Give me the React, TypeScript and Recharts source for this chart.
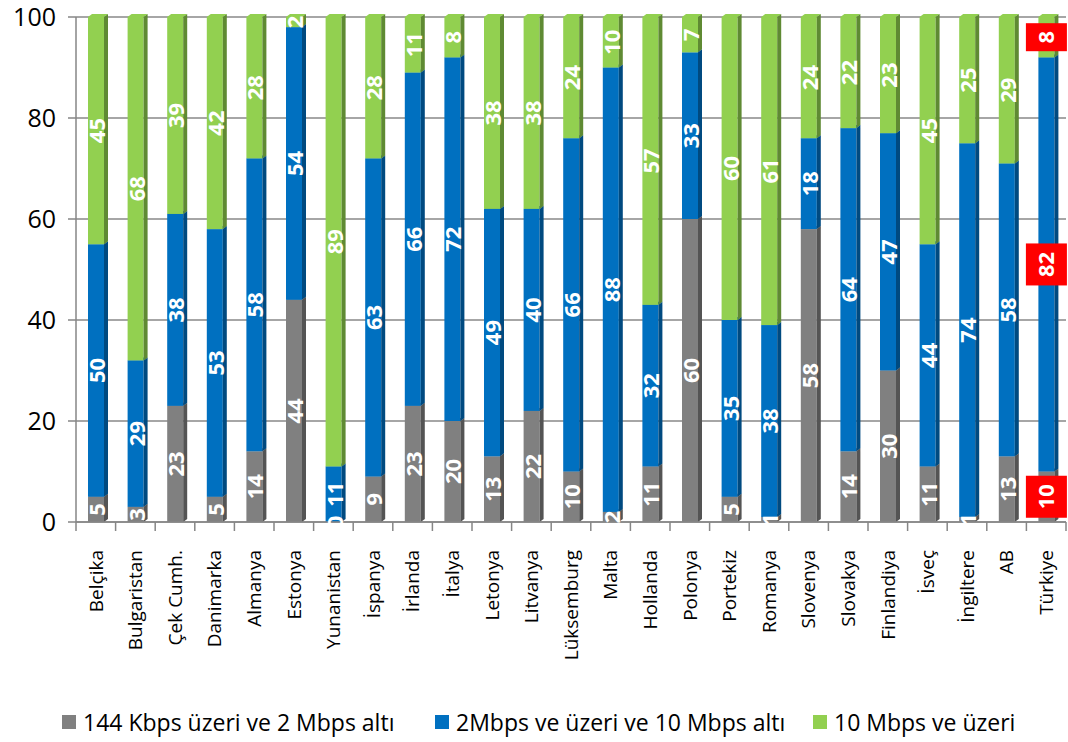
import React from 'react';
import { BarChart, Bar, XAxis, YAxis, CartesianGrid, LabelList, Legend } from 'recharts';

const countries = ['Belçika','Bulgaristan','Çek Cumh.','Danimarka','Almanya','Estonya','Yunanistan','İspanya','İrlanda','İtalya','Letonya','Litvanya','Lüksemburg','Malta','Hollanda','Polonya','Portekiz','Romanya','Slovenya','Slovakya','Finlandiya','İsveç','İngiltere','AB','Türkiye'];
const low = [5,3,23,5,14,44,0,9,23,20,13,22,10,2,11,60,5,1,58,14,30,11,1,13,10];
const mid = [50,29,38,53,58,54,11,63,66,72,49,40,66,88,32,33,35,38,18,64,47,44,74,58,82];
const high = [45,68,39,42,28,2,89,28,11,8,38,38,24,10,57,7,60,61,24,22,23,45,25,29,8];
const seriesNames = ['144 Kbps üzeri ve 2 Mbps altı', '2Mbps ve üzeri ve 10 Mbps altı', '10 Mbps ve üzeri'];
const yTicks = [0, 20, 40, 60, 80, 100];
const highlighted = 'Türkiye';

const data = countries.map((c, i) => ({ name: c, low: low[i], mid: mid[i], high: high[i] }));

const fronts = ['#808080', '#0070C0', '#92D050'];
const sides = ['#545454', '#004A80', '#5F8A33'];
const keys = ['low', 'mid', 'high'];

const FONT = '"Open Sans", "DejaVu Sans", sans-serif';
const BAND = 990 / 25;

const makeShape = (front: string, side: string) => (props: any) => {
  const { x, y, width, height } = props;
  if (!height || height <= 0) return <g />;
  const d = 4, e = 3;
  return (
    <g>
      <path d={`M${x},${y} L${x + d},${y - e} L${x + width + d},${y - e} L${x + width},${y} Z`} fill={front} />
      <rect x={x} y={y} width={width} height={height} fill={front} />
      <path d={`M${x + width},${y + height} L${x + width},${y} L${x + width + d},${y - e} L${x + width + d},${y + height - e} Z`} fill={side} />
    </g>
  );
};

const makeLabel = () => (props: any) => {
  const vb = props.viewBox || props;
  const x = vb.x ?? props.x, y = vb.y ?? props.y, width = vb.width ?? props.width, height = vb.height ?? props.height;
  const { value, index } = props;
  const cx = x + width / 2;
  const cy = y + height / 2;
  const txt = String(value);
  if (countries[index] === highlighted) {
    const bh = txt.length * 14 + 14;
    return (
      <g>
        <rect x={cx - 20.5} y={cy - bh / 2} width={41} height={bh} fill="#FF0000" />
        <text transform={`translate(${cx},${cy}) rotate(-90)`} textAnchor="middle" dy="0.36em" fill="#ffffff" fontWeight="bold" fontSize={22} fontFamily={FONT}>{txt}</text>
      </g>
    );
  }
  return (
    <text transform={`translate(${cx + 1},${cy}) rotate(-90)`} textAnchor="middle" dy="0.36em" fill="#ffffff" fontWeight="bold" fontSize={22} fontFamily={FONT}>{txt}</text>
  );
};

const CategoryTick = (props: any) => {
  const { x, y, payload, index } = props;
  const left = x - BAND / 2;
  return (
    <g>
      <line x1={left} x2={left} y1={y} y2={y + 9} stroke="#868686" strokeWidth={1.5} />
      {index === countries.length - 1 ? (
        <line x1={x + BAND / 2} x2={x + BAND / 2} y1={y} y2={y + 9} stroke="#868686" strokeWidth={1.5} />
      ) : null}
      <text transform={`translate(${x},${y + 28}) rotate(-90)`} textAnchor="end" dy="0.36em" fontSize={19} fontFamily={FONT} fill="#000">{payload.value}</text>
    </g>
  );
};

const legendLefts = [62, 435, 813];
const renderLegend = () => (
  <div style={{ position: 'relative', width: 1068, height: 40 }}>
    {seriesNames.map((n, i) => (
      <div key={i} style={{ position: 'absolute', left: legendLefts[i], top: 4, display: 'flex', alignItems: 'center', whiteSpace: 'nowrap' }}>
        <span style={{ display: 'inline-block', width: 14, height: 14, background: fronts[i], marginRight: 7 }} />
        <span style={{ fontFamily: FONT, fontSize: 23, color: '#000' }}>{n}</span>
      </div>
    ))}
  </div>
);

export default function App() {
  return (
    <div style={{ position: 'absolute', left: 0, top: 0, width: 1068, height: 742, background: '#fff' }}>
      <BarChart width={1068} height={742} data={data} margin={{ top: 17, right: 2, left: 0, bottom: 0 }} barSize={16}>
        <CartesianGrid vertical={false} stroke="#a6a6a6" strokeWidth={2} />
        <XAxis dataKey="name" interval={0} height={180} tickLine={false} tickSize={0} tickMargin={0} axisLine={{ stroke: '#868686', strokeWidth: 1.5 }} tick={<CategoryTick />} />
        <YAxis domain={[0, 100]} ticks={yTicks} width={76} tickSize={8} tickMargin={12} axisLine={{ stroke: '#868686', strokeWidth: 1.5 }} tickLine={{ stroke: '#868686', strokeWidth: 1.5 }} tick={{ fontSize: 25, fontFamily: FONT, fill: '#000' }} />
        <Legend verticalAlign="bottom" content={renderLegend} wrapperStyle={{ left: 0, width: 1068 }} />
        {keys.map((k, i) => (
          <Bar key={k} dataKey={k} name={seriesNames[i]} stackId="a" fill={fronts[i]} isAnimationActive={false} shape={makeShape(fronts[i], sides[i])}>
            <LabelList dataKey={k} content={makeLabel()} />
          </Bar>
        ))}
      </BarChart>
    </div>
  );
}
